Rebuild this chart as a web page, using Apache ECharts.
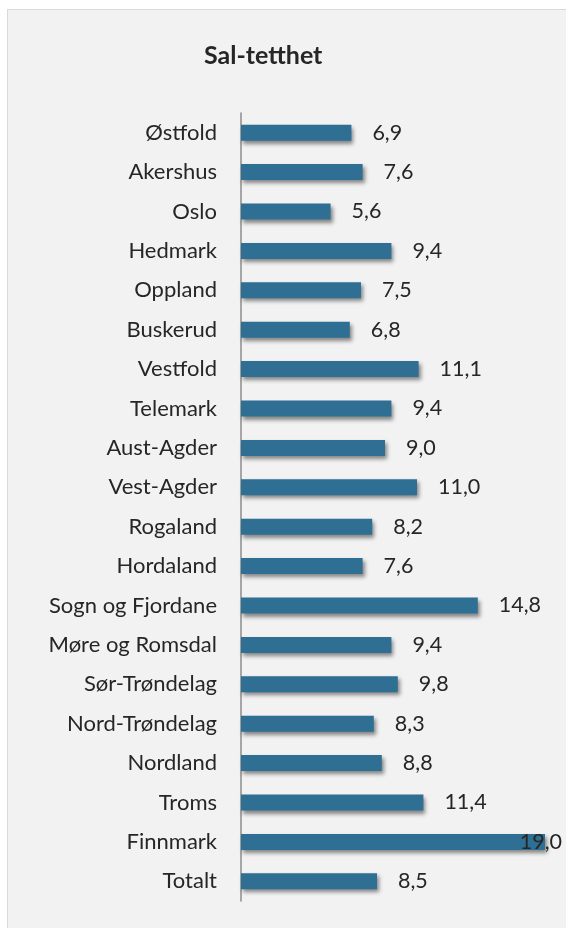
<!DOCTYPE html>
<html><head><meta charset="utf-8">
<script src="https://cdn.jsdelivr.net/npm/echarts@6/dist/echarts.min.js"></script>
<style>html,body{margin:0;padding:0;background:#fff;}#c{width:566px;height:928px;}</style>
</head><body><div id="c"></div>
<script>
const categories = ['Østfold','Akershus','Oslo','Hedmark','Oppland','Buskerud','Vestfold','Telemark','Aust-Agder','Vest-Agder','Rogaland','Hordaland','Sogn og Fjordane','Møre og Romsdal','Sør-Trøndelag','Nord-Trøndelag','Nordland','Troms','Finnmark','Totalt'];
const values = [6.9,7.6,5.6,9.4,7.5,6.8,11.1,9.4,9.0,11.0,8.2,7.6,14.8,9.4,9.8,8.3,8.8,11.4,19.0,8.5];
const title = 'Sal-tetthet';

const chart = echarts.init(document.getElementById('c'));
const font = 'Lato, sans-serif';
const data = values.map((v, i) => {
  const d = { value: v };
  if (v === Math.max(...values)) {
    d.label = { position: 'insideRight', distance: 0, offset: [17, 0] };
  }
  return d;
});
chart.setOption({
  backgroundColor: '#fff',
  animation: false,
  graphic: [{
    type: 'rect', left: 7, top: 9, z: -10,
    shape: { width: 570, height: 930 },
    style: { fill: '#F2F2F2', stroke: '#D9D9D9', lineWidth: 1 }
  }],
  title: {
    text: title, left: 199, top: 38,
    textStyle: { fontFamily: font, fontSize: 25, fontWeight: 'bold', color: '#262626' }
  },
  grid: { left: 241, top: 113, width: 320, height: 788, containLabel: false },
  xAxis: {
    type: 'value', min: 0, max: 20, show: false
  },
  yAxis: {
    type: 'category', data: categories, inverse: true,
    axisLine: { show: true, lineStyle: { color: '#8C8C8C', width: 1.5 } },
    axisTick: { show: false },
    axisLabel: { margin: 24, fontFamily: font, fontSize: 22, color: '#262626' }
  },
  series: [{
    type: 'bar', data: data, barWidth: 16,
    itemStyle: { color: '#2E6F93', shadowColor: 'rgba(0,0,0,0.45)', shadowBlur: 4, shadowOffsetX: 2, shadowOffsetY: 3 },
    label: {
      show: true, position: 'right', distance: 21,
      fontFamily: font, fontSize: 21.5, color: '#262626',
      formatter: p => p.value.toFixed(1).replace('.', ',')
    }
  }]
});
</script></body></html>
